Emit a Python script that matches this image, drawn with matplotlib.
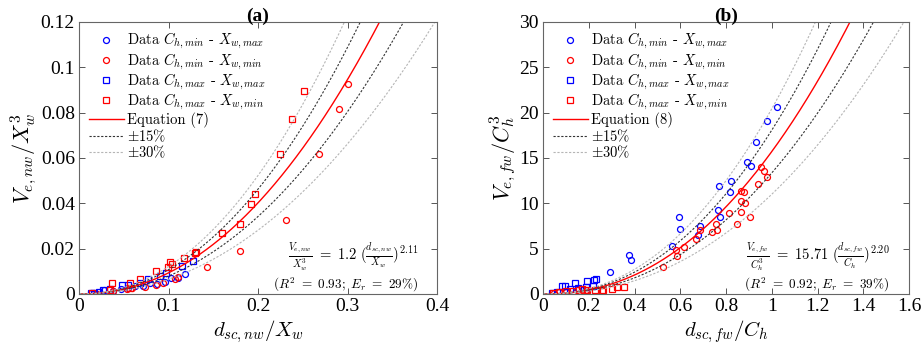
import numpy as np
import matplotlib
matplotlib.use('Agg')
import matplotlib.pyplot as plt

plt.rcParams['mathtext.fontset'] = 'cm'
plt.rcParams['font.family'] = ['Liberation Serif', 'DejaVu Serif']

# (a) wetted volume, narrow-wide case
a_bc_x = [0.013, 0.017, 0.028, 0.038, 0.047, 0.055, 0.063, 0.072, 0.079, 0.087, 0.096, 0.1025, 0.111, 0.118]
a_bc_y = [0.0005, 0.0006, 0.0018, 0.0015, 0.0022, 0.0025, 0.0035, 0.0035, 0.0050, 0.0044, 0.0054, 0.0069, 0.0072, 0.0086]
a_rc_x = [0.020, 0.038, 0.054, 0.059, 0.074, 0.086, 0.0935, 0.107, 0.111, 0.1427, 0.180, 0.231, 0.268, 0.291, 0.301]
a_rc_y = [0.0002, 0.0015, 0.0022, 0.0025, 0.0032, 0.0040, 0.0047, 0.0065, 0.0073, 0.0118, 0.019, 0.0325, 0.0616, 0.0815, 0.0926]
a_bs_x = [0.013, 0.017, 0.022, 0.027, 0.035, 0.048, 0.055, 0.068, 0.0775, 0.0905, 0.097, 0.1147, 0.1277]
a_bs_y = [0.0005, 0.0006, 0.0010, 0.0018, 0.0022, 0.0040, 0.0040, 0.0050, 0.0065, 0.0079, 0.0091, 0.0124, 0.0147]
a_rs_x = [0.014, 0.0346, 0.0372, 0.057, 0.057, 0.068, 0.086, 0.099, 0.1017, 0.104, 0.1177, 0.1296, 0.131, 0.160, 0.180, 0.1925, 0.197, 0.225, 0.238, 0.251]
a_rs_y = [0.0004, 0.0018, 0.0047, 0.0025, 0.0050, 0.0065, 0.0103, 0.0119, 0.0143, 0.0133, 0.0157, 0.0182, 0.0186, 0.0271, 0.0307, 0.0398, 0.0441, 0.0618, 0.0770, 0.0897]

# (b) wetted volume, full-wide case
b_bc_x = [0.294, 0.377, 0.383, 0.565, 0.595, 0.599, 0.679, 0.686, 0.764, 0.769, 0.774, 0.817, 0.822, 0.893, 0.908, 0.930, 0.981, 1.024]
b_bc_y = [2.46, 4.3, 3.75, 5.26, 8.46, 7.13, 6.47, 7.5, 9.26, 11.9, 8.53, 11.2, 12.5, 14.6, 14.1, 16.8, 19.1, 20.6]
b_rc_x = [0.05, 0.07, 0.10, 0.15, 0.169, 0.19, 0.523, 0.580, 0.584, 0.616, 0.667, 0.686, 0.737, 0.756, 0.759, 0.813,
          0.849, 0.866, 0.866, 0.877, 0.866, 0.883, 0.905, 0.941, 0.953, 0.967, 0.978]
b_rc_y = [0.1, 0.2, 0.25, 0.4, 0.44, 0.45, 2.94, 4.85, 4.19, 5.15, 6.03, 7.06, 6.8, 7.72, 7.06, 8.97,
          7.72, 9.08, 11.4, 11.2, 10.2, 10.0, 8.53, 12.1, 14.0, 13.6, 12.9]
b_bs_x = [0.04, 0.06, 0.085, 0.095, 0.118, 0.14, 0.155, 0.187, 0.194, 0.217, 0.222, 0.232]
b_bs_y = [0.15, 0.2, 0.9, 0.9, 0.5, 1.18, 0.63, 0.8, 1.4, 0.9, 1.54, 1.65]
b_rs_x = [0.045, 0.07, 0.10, 0.131, 0.169, 0.191, 0.227, 0.258, 0.264, 0.30, 0.322, 0.355]
b_rs_y = [0.15, 0.2, 0.3, 0.37, 0.52, 0.44, 0.44, 0.3, 0.44, 0.55, 0.74, 0.81]

# fitted power laws: y = coef * x^expo
a_coef, a_expo = 1.2, 2.11
b_coef, b_expo = 15.71, 2.20

fig = plt.figure(figsize=(9.21, 3.57), dpi=100)
ax1 = fig.add_axes([0.0858, 0.1765, 0.3887, 0.762])
ax2 = fig.add_axes([0.5896, 0.1765, 0.3974, 0.762])

labels = [r'Data $C_{h,min}$ - $X_{w,max}$', r'Data $C_{h,min}$ - $X_{w,min}$',
          r'Data $C_{h,max}$ - $X_{w,max}$', r'Data $C_{h,max}$ - $X_{w,min}$']


def draw(ax, series, coef, expo, xmax, ymax, eq_label, title, xlabel, ylabel, eq_text, stats_text):
    styles = [('o', 'b'), ('o', 'r'), ('s', 'b'), ('s', 'r')]
    for (xs, ys), (m, c), lab in zip(series, styles, labels):
        ax.plot(xs, ys, linestyle='none', marker=m, markersize=4.3, markerfacecolor='none',
                markeredgecolor=c, markeredgewidth=0.9, label=lab)
    xx = np.linspace(0, xmax, 400)
    yy = coef * xx ** expo
    ax.plot(xx, yy, '-', color='r', lw=1.0, label=eq_label)
    ax.plot(xx, 1.15 * yy, color='#333333', lw=0.8, ls=(0, (2, 1.5)), label=r'$\pm15\%$')
    ax.plot(xx, 0.85 * yy, color='#333333', lw=0.8, ls=(0, (2, 1.5)))
    ax.plot(xx, 1.3 * yy, color='#b5b5b5', lw=0.8, ls=(0, (2, 1.5)), label=r'$\pm30\%$')
    ax.plot(xx, 0.7 * yy, color='#b5b5b5', lw=0.8, ls=(0, (2, 1.5)))
    ax.set_xlim(0, xmax)
    ax.set_ylim(0, ymax)
    ax.set_title(title, fontsize=14, fontweight='bold', pad=1)
    ax.set_xlabel(xlabel, fontsize=15, labelpad=2)
    ax.set_ylabel(ylabel, fontsize=16, labelpad=1)
    ax.tick_params(direction='in', top=True, right=True, labelsize=14, length=4,
                   color='#555555', width=0.7, pad=3)
    for sp in ax.spines.values():
        sp.set_color('#666666')
        sp.set_linewidth(0.8)
    ax.legend(loc='upper left', frameon=False, handlelength=2.4,
              handletextpad=0.25, labelspacing=0.0, borderaxespad=0.25, borderpad=0.4,
              prop={'family': 'cmr10', 'size': 10.5})
    ax.text(0.947, 0.135, eq_text, transform=ax.transAxes, ha='right', va='center', fontsize=10.5)
    ax.text(0.947, 0.035, stats_text, transform=ax.transAxes, ha='right', va='center', fontsize=9.5)


draw(ax1, [(a_bc_x, a_bc_y), (a_rc_x, a_rc_y), (a_bs_x, a_bs_y), (a_rs_x, a_rs_y)],
     a_coef, a_expo, 0.4, 0.12, 'Equation (7)', '(a)',
     r'$d_{sc,nw}/X_w$', r'$V_{e,nw}/X_w^3$',
     r'$\frac{V_{e,nw}}{X_w^3}\ =\ 1.2\ (\frac{d_{sc,nw}}{X_w})^{2.11}$',
     r'$(R^2\ =\ 0.93;\ E_r\ =\ 29\%)$')
ax1.set_xticks([0, 0.1, 0.2, 0.3, 0.4])
ax1.set_xticklabels(['0', '0.1', '0.2', '0.3', '0.4'])
ax1.set_yticks([0, 0.02, 0.04, 0.06, 0.08, 0.1, 0.12])
ax1.set_yticklabels(['0', '0.02', '0.04', '0.06', '0.08', '0.1', '0.12'])

draw(ax2, [(b_bc_x, b_bc_y), (b_rc_x, b_rc_y), (b_bs_x, b_bs_y), (b_rs_x, b_rs_y)],
     b_coef, b_expo, 1.6, 30, 'Equation (8)', '(b)',
     r'$d_{sc,fw}/C_h$', r'$V_{e,fw}/C_h^3$',
     r'$\frac{V_{e,fw}}{C_h^3}\ =\ 15.71\ (\frac{d_{sc,fw}}{C_h})^{2.20}$',
     r'$(R^2\ =\ 0.92;\ E_r\ =\ 39\%)$')
ax2.set_xticks([0, 0.2, 0.4, 0.6, 0.8, 1.0, 1.2, 1.4, 1.6])
ax2.set_xticklabels(['0', '0.2', '0.4', '0.6', '0.8', '1', '1.2', '1.4', '1.6'])
ax2.set_yticks([0, 5, 10, 15, 20, 25, 30])

fig.savefig('out.png', dpi=100, facecolor='white')
